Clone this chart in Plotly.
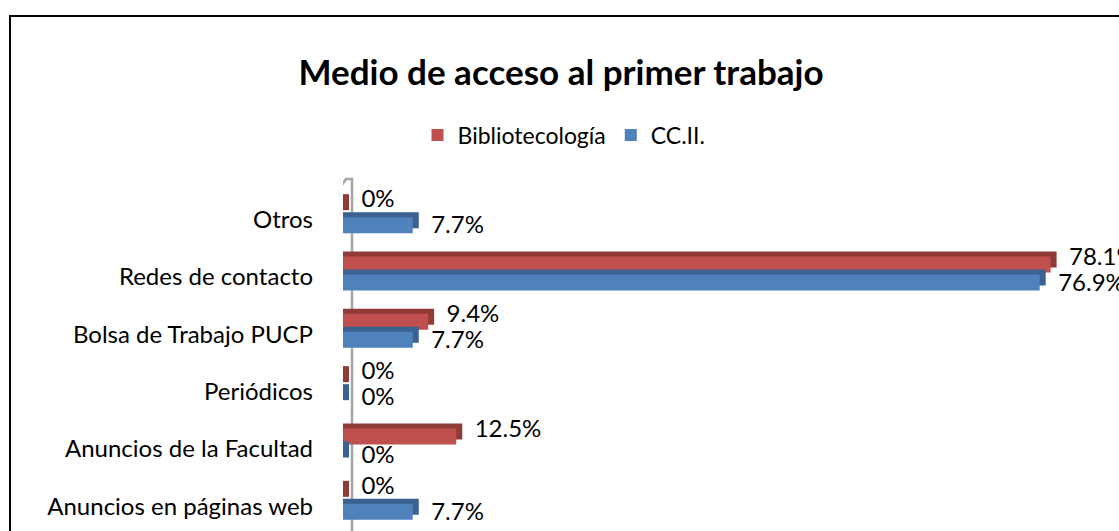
import plotly.graph_objects as go

categories = ["Otros", "Redes de contacto", "Bolsa de Trabajo PUCP", "Periódicos",
              "Anuncios de la Facultad", "Anuncios en páginas web"]
biblio = [0, 78.1, 9.4, 0, 12.5, 0]
ccii = [7.7, 76.9, 7.7, 0, 0, 7.7]
series_names = ["Bibliotecología", "CC.II."]
title_text = "Medio de acceso al primer trabajo"

RED, RED_S = "#C0504D", "#8F3B39"
BLUE, BLUE_S = "#4F81BD", "#3A6190"
FONT = "Lato"

W, H = 1119, 531
ML, MT, MB, MR = 343, 187, 0, 0
PX_PER_UNIT = 9.06
xmax = (W - ML - MR) / PX_PER_UNIT
plot_h = H - MT - MB
cat_px = plot_h / len(categories)

pos = list(range(len(categories)))
dx = 6 / PX_PER_UNIT          # depth to the right (data units)
dy = 5 / cat_px               # depth upward (category units)
bw = 16 / cat_px              # bar thickness
red_off = -bw - 0.5 / cat_px
blue_off = 1.5 / cat_px

fig = go.Figure()

def add_series(vals, off, col, scol, name, label_shift_px):
    # depth (3D side/top) rendered behind the front face
    fig.add_trace(go.Bar(y=pos, x=[v + dx for v in vals], base=0, orientation="h",
                         offset=off - dy, width=bw, marker_color=scol,
                         marker_line_width=0, showlegend=False, hoverinfo="skip"))
    fig.add_trace(go.Bar(y=pos, x=vals, orientation="h", offset=off, width=bw,
                         marker_color=col, marker_line_width=0, name=name))
    fig.add_trace(go.Scatter(y=[p + off + bw / 2 + label_shift_px / cat_px for p in pos],
                             x=vals, mode="text",
                             text=["   " + (f"{v:g}%") for v in vals],
                             textposition="middle right",
                             textfont=dict(family=FONT, size=24, color="#000"),
                             showlegend=False, hoverinfo="skip", cliponaxis=False))

add_series(biblio, red_off, RED, RED_S, series_names[0], -6)
add_series(ccii, blue_off, BLUE, BLUE_S, series_names[1], 2)

def px_to_x(px):
    return (px - ML) / PX_PER_UNIT

def py_to_paper(py):
    return (H - MB - py) / plot_h

# 3D back wall outline
wall = (f"M {px_to_x(338)},{py_to_paper(545)} L {px_to_x(338)},{py_to_paper(191)} "
        f"L {px_to_x(346)},{py_to_paper(179)} L {px_to_x(352)},{py_to_paper(179)} "
        f"L {px_to_x(352)},{py_to_paper(545)}")
fig.add_shape(type="path", path=wall, xref="x", yref="paper",
              line=dict(color="#A6A6A6", width=2.5), layer="below")

# chart area border
fig.add_shape(type="rect", xref="paper", yref="paper",
              x0=(10 - ML) / (W - ML - MR), x1=1.05,
              y0=-0.2, y1=py_to_paper(16),
              line=dict(color="#000", width=2), fillcolor="rgba(0,0,0,0)")

fig.update_layout(
    width=W, height=H,
    margin=dict(l=ML, r=MR, t=MT, b=MB, pad=0),
    paper_bgcolor="white", plot_bgcolor="white",
    barmode="overlay",
    title=dict(text=f"<b>{title_text}</b>", x=561 / W, xref="container", xanchor="center",
               y=1 - 73 / H, yanchor="middle", yref="container",
               font=dict(family=FONT, size=35, color="#000")),
    legend=dict(orientation="h", x=(564 - ML) / (W - ML), xanchor="center",
                y=py_to_paper(135), yanchor="middle",
                font=dict(family=FONT, size=23, color="#000"),
                itemwidth=30, traceorder="normal"),
    font=dict(family=FONT, color="#000"),
    showlegend=True,
)
fig.update_xaxes(range=[0, xmax], visible=False, showgrid=False, zeroline=False)
fig.update_yaxes(tickvals=pos, ticktext=categories, range=[len(categories) - 0.5, -0.5],
                 showgrid=False, zeroline=False, showline=False, ticks="",
                 ticklabelstandoff=29, ticklabelshift=-4,
                 tickfont=dict(family=FONT, size=24, color="#000"))

fig.write_html("out.html", post_script="document.body.style.margin='0';",
               config={"displayModeBar": False})
